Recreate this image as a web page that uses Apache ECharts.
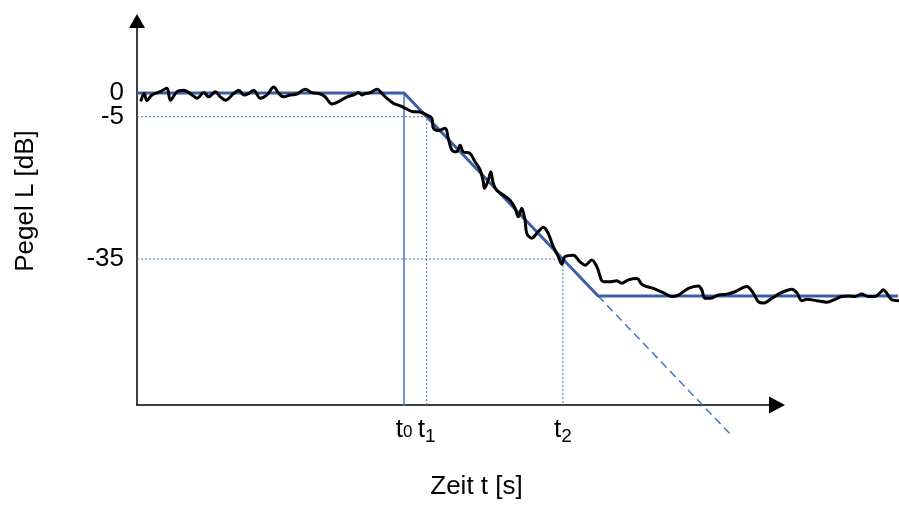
<!DOCTYPE html>
<html>
<head>
<meta charset="utf-8">
<script src="https://cdn.jsdelivr.net/npm/echarts@6/dist/echarts.min.js"></script>
<style>
  html, body { margin: 0; background: #fff; }
  #chart { width: 899px; height: 505px; }
</style>
</head>
<body>
<div id="chart"></div>
<script>
// measured level (black, noisy) – time in s, level in dB
const signalTime = [
  0.15, 0.27, 0.37, 0.56, 0.87, 1.12, 1.25, 1.50, 1.75, 2.06,
  2.25, 2.50, 2.69, 2.93, 3.12, 3.31, 3.62, 3.81, 4.00, 4.18,
  4.37, 4.62, 4.87, 5.12, 5.31, 5.49, 5.74, 5.99, 6.30, 6.55,
  6.87, 7.05, 7.30, 7.55, 7.87, 8.12, 8.30, 8.43, 8.55, 8.74,
  8.99, 9.18, 9.36, 9.61, 9.86, 10.11, 10.30, 10.60, 10.85, 11.04,
  11.10, 11.28, 11.54, 11.66, 11.79, 11.97, 12.10, 12.22, 12.47, 12.66,
  12.85, 12.97, 13.01, 13.16, 13.25, 13.34, 13.47, 13.72, 13.97, 14.16,
  14.28, 14.41, 14.53, 14.60, 14.78, 15.03, 15.22, 15.40, 15.59, 15.78,
  15.91, 16.03, 16.34, 16.59, 16.78, 17.03, 17.22, 17.47, 17.72, 17.97,
  18.15, 18.40, 18.72, 18.90, 19.03, 19.34, 19.71, 20.03, 20.27, 20.65,
  21.02, 21.15, 21.27, 21.46, 21.77, 22.09, 22.40, 22.83, 23.08, 23.27,
  23.46, 23.77, 24.02, 24.21, 24.52, 24.71, 24.90, 25.08, 25.46, 25.83,
  26.14, 26.39, 26.64, 26.89, 27.14, 27.39, 27.64, 27.83, 27.95, 28.08,
  28.27, 28.51
];
const signalLevel = [
  -1.5, -0.1, -1.6, -0.4, 0.3, 1.0, -1.5, 0.3, 0.6, -0.4,
  -1.1, 0.1, -0.8, 0.3, -0.8, -1.5, -0.1, 0.6, -0.4, -0.1,
  0.6, -1.1, -0.4, 1.3, -0.1, -0.8, -0.4, -0.2, 0.8, 0.1,
  -0.2, -0.8, -2.3, -1.8, -0.8, -0.4, 0.1, -0.4, -0.1, 0.1,
  0.8, -0.1, -1.1, -2.2, -2.7, -3.4, -3.9, -4.0, -4.6, -5.3,
  -7.4, -7.9, -7.4, -9.6, -12.0, -12.4, -11.0, -12.4, -12.7, -14.5,
  -16.2, -18.7, -20.1, -18.3, -16.6, -19.0, -20.5, -21.5, -22.6, -24.3,
  -26.1, -24.3, -26.8, -29.6, -30.6, -29.2, -28.3, -29.6, -32.4, -34.5,
  -36.1, -34.5, -34.2, -35.6, -36.3, -35.2, -36.6, -39.8, -39.8, -39.6,
  -40.1, -39.4, -39.1, -40.3, -40.7, -41.2, -42.1, -42.9, -42.6, -41.2,
  -40.7, -41.5, -43.3, -43.3, -42.6, -42.4, -41.9, -40.8, -42.2, -44.0,
  -44.3, -43.3, -42.4, -41.9, -41.4, -42.1, -43.8, -43.5, -43.8, -44.1,
  -43.5, -42.9, -42.8, -42.9, -42.4, -42.9, -42.9, -42.1, -41.5, -42.2,
  -43.6, -43.8
];

// idealised decay (blue)
const modelTime = [0, 10, 17.27, 28.5];
const modelLevel = [0, 0, -42.8, -42.8];
// extrapolated decay (blue dashed)
const extTime = [17.27, 22.25];
const extLevel = [-42.8, -72.1];

// t0, t1, t2 and the levels they belong to
const markTimes = [10, 10.85, 15.95];
const markLevels = [0, -5, -35];
const markSub = ['0', '1', '2'];
const levelTicks = [0, -5, -35];

const X_MAX_AXIS = 23.97;
const X_MAX_DATA = 28.5;
const Y_MIN = -66;
const Y_MAX = 15.2;
const FONT = '"Liberation Sans", Arial, sans-serif';

const pairs = (xs, ys) => xs.map((x, i) => [x, ys[i]]);

const chart = echarts.init(document.getElementById('chart'), null, { renderer: 'canvas' });

const guideSeries = markTimes.map((t, i) => ({
  type: 'line',
  xAxisIndex: 1,
  yAxisIndex: 1,
  symbol: 'none',
  silent: true,
  z: 1,
  data: i === 0
    ? [[t, markLevels[i]], [t, Y_MIN]]
    : [[0, markLevels[i]], [t, markLevels[i]], [t, Y_MIN]],
  lineStyle: {
    color: '#4472c4',
    width: i === 0 ? 1.5 : 1,
    type: i === 0 ? 'solid' : [2, 2],
  },
}));

const yLabelStyle = { margin: 13, fontSize: 26, fontFamily: FONT, color: '#000', hideOverlap: false };

chart.setOption({
  animation: false,
  grid: [
    { left: 137, right: 122, top: 21, bottom: 99 },
    { left: 137, right: 1, top: 21, bottom: 99 },
  ],
  xAxis: [
    {
      gridIndex: 0,
      type: 'value',
      min: 0,
      max: X_MAX_AXIS,
      axisLine: {
        show: true,
        onZero: false,
        symbol: ['none', 'triangle'],
        symbolSize: [17, 16],
        lineStyle: { color: '#000', width: 1.5 },
      },
      axisTick: { show: false },
      splitLine: { show: false },
      axisLabel: {
        customValues: markTimes,
        hideOverlap: false,
        showMinLabel: true,
        showMaxLabel: true,
        margin: 12,
        formatter(value) {
          const i = markTimes.indexOf(value);
          return i === 0 ? '{t|t}{z|' + markSub[i] + '}' : '{t|t}{s|' + markSub[i] + '}';
        },
        rich: {
          t: { fontSize: 26, lineHeight: 26, verticalAlign: 'top', fontFamily: FONT, color: '#000' },
          z: { fontSize: 17, lineHeight: 30, fontFamily: FONT, color: '#000' },
          s: { fontSize: 19, lineHeight: 40, fontFamily: FONT, color: '#000' },
        },
      },
      name: 'Zeit t [s]',
      nameLocation: 'middle',
      nameGap: 69,
      nameTextStyle: { fontSize: 26, fontFamily: FONT, color: '#000', padding: [0, 0, 0, 39] },
    },
    { gridIndex: 1, type: 'value', min: 0, max: X_MAX_DATA, show: false },
  ],
  yAxis: [
    {
      gridIndex: 0,
      type: 'value',
      min: Y_MIN,
      max: Y_MAX,
      axisLine: {
        show: true,
        onZero: false,
        symbol: ['none', 'triangle'],
        symbolSize: [16, 14],
        lineStyle: { color: '#000', width: 1.5 },
      },
      axisTick: { show: false },
      splitLine: { show: false },
      // -5 and -35 here; 0 sits on the second axis so the close labels are not culled
      axisLabel: { ...yLabelStyle, customValues: levelTicks.slice(1), showMinLabel: true, showMaxLabel: true },
      name: 'Pegel L [dB]',
      nameLocation: 'middle',
      nameGap: 98,
      nameTextStyle: { fontSize: 26, fontFamily: FONT, color: '#000', padding: [0, 0, 0, 24] },
    },
    {
      gridIndex: 1,
      type: 'value',
      min: Y_MIN,
      max: Y_MAX,
      axisLine: { show: false },
      axisTick: { show: false },
      splitLine: { show: false },
      axisLabel: { ...yLabelStyle, customValues: levelTicks.slice(0, 1), showMinLabel: true, showMaxLabel: true },
    },
  ],
  series: [
    ...guideSeries,
    {
      name: 'Extrapolation',
      type: 'line',
      xAxisIndex: 1,
      yAxisIndex: 1,
      symbol: 'none',
      clip: false,
      z: 2,
      data: pairs(extTime, extLevel),
      lineStyle: { color: '#4472c4', width: 1.5, type: [8, 5] },
    },
    {
      name: 'Modell',
      type: 'line',
      xAxisIndex: 1,
      yAxisIndex: 1,
      symbol: 'none',
      z: 3,
      data: pairs(modelTime, modelLevel),
      lineStyle: { color: '#3b5ea8', width: 3 },
    },
    {
      name: 'Pegel',
      type: 'line',
      xAxisIndex: 1,
      yAxisIndex: 1,
      symbol: 'none',
      smooth: 0.35,
      z: 4,
      data: pairs(signalTime, signalLevel),
      lineStyle: { color: '#000', width: 3, cap: 'round', join: 'round' },
    },
  ],
});
</script>
</body>
</html>
